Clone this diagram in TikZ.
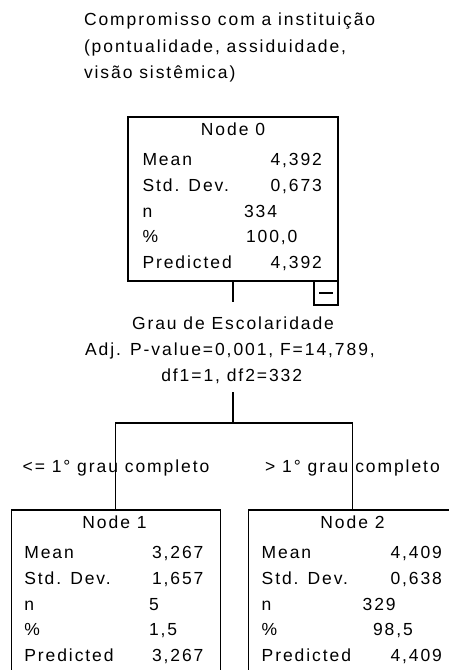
\documentclass[tikz,border=0pt]{standalone}
\usepackage{fontspec}
\setmainfont[LetterSpace=11]{Liberation Sans}
\usetikzlibrary{calc}
\begin{document}
\begin{tikzpicture}[x=1pt,y=-1pt,
  every node/.style={inner sep=0pt, outer sep=0pt},
  txt/.style={font=\fontsize{17.5}{20}\selectfont, text=black},
  box/.style={draw=black, line width=1.3pt, minimum width=210pt, minimum height=164pt, anchor=north},
  conn/.style={draw=black, line width=1.3pt}]
\useasboundingbox (0,0) rectangle (449,670);
\clip (0,0) rectangle (449,670);

% title
\node[txt, anchor=base west] (t1) at (84,25.7) {Compromisso com a instituição};
\node[txt, anchor=base west] (t2) at (84,52) {(pontualidade, assiduidade,};
\node[txt, anchor=base west] (t3) at (84,78.3) {visão sistêmica)};

% boxes
\node[box] (n0) at (233,117) {};
\node[box, minimum width=209pt] (n1) at (115.8,510) {};
\node[box, minimum width=209pt] (n2) at (352.8,510) {};

% toggle
\node[draw=black, line width=1.3pt, minimum size=24pt, anchor=north east] (tog) at (n0.south east) {};
\draw[conn] ($(tog.west)+(5,0)$) -- ($(tog.east)+(-5,0)$);

% node 0
\node[txt, anchor=base] (h0) at (233,135.3) {Node 0};
\node[txt, anchor=base west] (l0a) at (142.5,165.3) {Mean};
\node[txt, anchor=base west] (l0b) at (142.5,191.15) {Std. Dev.};
\node[txt, anchor=base west] (l0c) at (142.5,217) {n};
\node[txt, anchor=base west] (l0d) at (142.5,242.85) {\%};
\node[txt, anchor=base west] (l0e) at (142.5,268.7) {Predicted};
\node[txt, anchor=base east] (v0a) at (322,165.3) {4,392};
\node[txt, anchor=base east] (v0b) at (322,191.15) {0,673};
\node[txt, anchor=base west] (v0c) at (244,217) {334};
\node[txt, anchor=base west] (v0d) at (246,242.85) {100,0};
\node[txt, anchor=base east] (v0e) at (322,268.7) {4,392};

% node 1
\node[txt, anchor=base] (h1) at (114.5,528.3) {Node 1};
\node[txt, anchor=base west] (l1a) at (24.3,558.3) {Mean};
\node[txt, anchor=base west] (l1b) at (24.3,584.15) {Std. Dev.};
\node[txt, anchor=base west] (l1c) at (24.3,610) {n};
\node[txt, anchor=base west] (l1d) at (24.3,635.85) {\%};
\node[txt, anchor=base west] (l1e) at (24.3,661.7) {Predicted};
\node[txt, anchor=base east] (v1a) at (203.5,558.3) {3,267};
\node[txt, anchor=base east] (v1b) at (203.5,584.15) {1,657};
\node[txt, anchor=base west] (v1c) at (149,610) {5};
\node[txt, anchor=base west] (v1d) at (149,635.85) {1,5};
\node[txt, anchor=base east] (v1e) at (203.5,661.7) {3,267};

% node 2
\node[txt, anchor=base] (h2) at (352.5,528.3) {Node 2};
\node[txt, anchor=base west] (l2a) at (261.7,558.3) {Mean};
\node[txt, anchor=base west] (l2b) at (261.7,584.15) {Std. Dev.};
\node[txt, anchor=base west] (l2c) at (261.7,610) {n};
\node[txt, anchor=base west] (l2d) at (261.7,635.85) {\%};
\node[txt, anchor=base west] (l2e) at (261.7,661.7) {Predicted};
\node[txt, anchor=base east] (v2a) at (442,558.3) {4,409};
\node[txt, anchor=base east] (v2b) at (442,584.15) {0,638};
\node[txt, anchor=base west] (v2c) at (362.7,610) {329};
\node[txt, anchor=base west] (v2d) at (373,635.85) {98,5};
\node[txt, anchor=base east] (v2e) at (442,661.7) {4,409};

% split text
\node[txt, anchor=base] (g1) at (233,329) {Grau de Escolaridade};
\node[txt, anchor=base] (g2) at (230,355) {Adj. P-value=0,001, F=14,789,};
\node[txt, anchor=base] (g3) at (231.7,381) {df1=1, df2=332};

% connectors
\coordinate (a) at (233,302);
\coordinate (b) at (233,392);
\coordinate (j) at (233,423);
\draw[conn] (n0.south) -- (a);
\draw[conn] (b) -- (j);
\draw[conn] (n1.north) |- (j) -| (n2.north);

% edge labels
\node[txt, anchor=base] (e1) at (116,472) {<= 1° grau completo};
\node[txt, anchor=base] (e2) at (352.5,472) {> 1° grau completo};
\end{tikzpicture}
\end{document}
